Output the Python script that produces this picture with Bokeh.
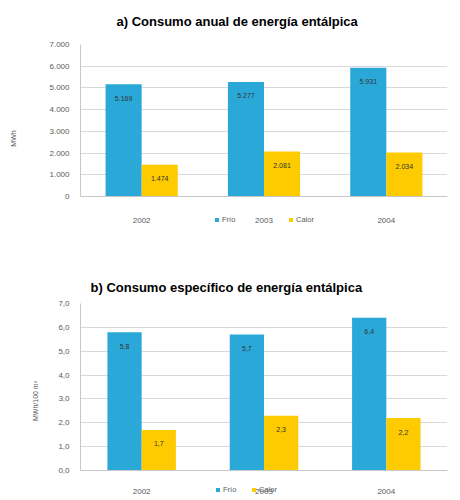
from bokeh.plotting import figure
from bokeh.layouts import column
from bokeh.models import (ColumnDataSource, FactorRange, Legend, LegendItem, CustomJSTickFormatter,
                          FixedTicker, Range1d, CategoricalAxis)
from bokeh.transform import dodge
from bokeh.embed import file_html
from bokeh.resources import INLINE
from bokeh.core.properties import value

years = ["2002", "2003", "2004"]
frio_a = [5169, 5277, 5931]
calor_a = [1474, 2081, 2034]
frio_b = [5.8, 5.7, 6.4]
calor_b = [1.7, 2.3, 2.2]
yticks_a = [0, 1000, 2000, 3000, 4000, 5000, 6000, 7000]
yticks_b = [0, 1, 2, 3, 4, 5, 6, 7]

BLUE = "#2AA9D9"
YELLOW = "#FECB00"
FONT = "Liberation Sans"
TXT = "#595959"


def fmt_thousands(v):
    return f"{v:,}".replace(",", ".")


def make(title, frio, calor, yticks, ymax, ylabel, left, right, top, bottom, plot_px, extra_px,
         bw, labels_fmt, tick_code, leg_x, leg_y, leg_spacing, standoff, title_standoff,
         title_offset, title_valign, ylabel_standoff):
    src = ColumnDataSource(dict(year=years, frio=frio, calor=calor,
                                frio_t=[labels_fmt(v) for v in frio],
                                calor_t=[labels_fmt(v) for v in calor]))
    ymin = -extra_px / plot_px * ymax
    p = figure(x_range=FactorRange(*years), y_range=Range1d(ymin, ymax),
               width=460, height=250, output_backend="svg", toolbar_location=None,
               min_border_left=left, min_border_right=right, min_border_top=top,
               min_border_bottom=bottom, x_axis_location=None)
    p.title.text = title
    p.title.align = "left"
    p.title.vertical_align = title_valign
    p.title.text_font = FONT
    p.title.text_font_size = "13px"
    p.title.text_color = "#000000"
    p.title.text_font_style = "bold"
    p.title.standoff = title_standoff
    p.title.offset = title_offset
    p.outline_line_color = None
    p.xgrid.grid_line_color = None
    p.ygrid.grid_line_color = "#D9D9D9"
    p.yaxis.ticker = FixedTicker(ticks=yticks)
    p.yaxis.formatter = CustomJSTickFormatter(code=tick_code)
    p.yaxis.bounds = (0, ymax)
    xax = CategoricalAxis(fixed_location=0)
    p.add_layout(xax, "below")
    for ax in (xax, p.yaxis[0]):
        ax.major_label_text_font = FONT
        ax.major_label_text_font_size = "8px"
        ax.major_label_text_color = TXT
        ax.major_tick_line_color = None
        ax.minor_tick_line_color = None
        ax.axis_line_color = "#C8C8C8"
    xax.major_label_standoff = standoff
    p.yaxis.axis_label = ylabel
    p.yaxis.axis_label_standoff = ylabel_standoff
    p.yaxis.axis_label_text_font = FONT
    p.yaxis.axis_label_text_font_size = "7px"
    p.yaxis.axis_label_text_font_style = "normal"
    p.yaxis.axis_label_text_color = TXT
    off = bw / 2
    r1 = p.vbar(x=dodge("year", -off, range=p.x_range), top="frio", width=bw, source=src,
                fill_color=BLUE, line_color=None)
    r2 = p.vbar(x=dodge("year", off, range=p.x_range), top="calor", width=bw, source=src,
                fill_color=YELLOW, line_color=None)
    for col, t, d in (("frio", "frio_t", -off), ("calor", "calor_t", off)):
        p.text(x=dodge("year", d, range=p.x_range), y=col, text=t, source=src,
               text_align="center", text_baseline="middle", y_offset=14,
               text_font=value(FONT), text_font_size="7px", text_color="#333333")
    leg = Legend(items=[LegendItem(label="Frío", renderers=[r1]),
                        LegendItem(label="Calor", renderers=[r2])],
                 orientation="horizontal", location=(leg_x, leg_y),
                 background_fill_alpha=0, border_line_color=None, padding=0, margin=0,
                 spacing=leg_spacing, glyph_width=5, glyph_height=5, label_standoff=3,
                 label_text_font=FONT, label_text_font_size="7.5px", label_text_color=TXT,
                 label_height=8)
    p.add_layout(leg, "center")
    return p


code_a = "return tick.toFixed(0).replace(/\\B(?=(\\d{3})+(?!\\d))/g, '.');"
code_b = "return tick.toFixed(1).replace('.', ',');"

pa = make("a) Consumo anual de energía entálpica", frio_a, calor_a, yticks_a, 7000, "MWh",
          62, 0, 43, 18, 153, 36, 0.295, fmt_thousands, code_a, 134, 8, 46, 15, 27, 36, "top", 29)
pb = make("b) Consumo específico de energía entálpica", frio_b, calor_b, yticks_b, 7, "MWh/100 m²",
          80, 13, 53, 2, 167, 28, 0.28, lambda v: f"{v:.1f}".replace(".", ","), code_b,
          135, 4, 8, 12, 18, 10, "bottom", 16)

layout = column(pa, pb, spacing=0)
open("out.html", "w").write(file_html(layout, INLINE))
